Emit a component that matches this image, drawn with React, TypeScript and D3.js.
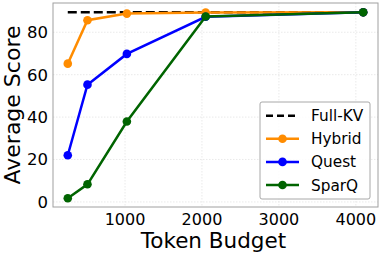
import React from "react";
import * as d3 from "d3";

const budgets = [256, 512, 1024, 2048, 4096];
const fullKV = 89.4;
const hybrid = [65.2, 85.7, 88.8, 89.3, 89.4];
const quest = [22.0, 55.3, 69.8, 87.3, 89.4];
const sparq = [1.7, 8.3, 37.9, 87.4, 89.4];
const xTicks = [1000, 2000, 3000, 4000];
const yTicks = [0, 20, 40, 60, 80];

const series = [
  { name: "Hybrid", values: hybrid, color: "#ff8c00" },
  { name: "Quest", values: quest, color: "#0000ff" },
  { name: "SparQ", values: sparq, color: "#006400" },
];

const W = 382, H = 255;
const left = 53, right = 378, top = 3, bottom = 207;
const font = "'DejaVu Sans', sans-serif";

export default function App() {
  const x = d3.scaleLinear().domain([64, 4288]).range([left, right]);
  const y = d3.scaleLinear().domain([-2.4, 93.8]).range([bottom, top]);
  const line = d3
    .line<number>()
    .x((_, i) => x(budgets[i]))
    .y((d) => y(d));

  const legendItems = [{ name: "Full-KV", color: "#000", dashed: true }, ...series.map((s) => ({ name: s.name, color: s.color, dashed: false }))];

  return (
    <svg width={W} height={H} style={{ position: "absolute", left: 0, top: 0, fontFamily: font }}>
      <rect x={0} y={0} width={W} height={H} fill="#fff" />
      {xTicks.map((t) => (
        <line key={"gx" + t} x1={x(t)} x2={x(t)} y1={top} y2={bottom} stroke="#e4e4e4" strokeWidth={0.8} strokeDasharray="1.5,1.5" />
      ))}
      {yTicks.map((t) => (
        <line key={"gy" + t} x1={left} x2={right} y1={y(t)} y2={y(t)} stroke="#e4e4e4" strokeWidth={0.8} strokeDasharray="1.5,1.5" />
      ))}
      <line x1={x(budgets[0])} x2={x(budgets[budgets.length - 1])} y1={y(fullKV)} y2={y(fullKV)} stroke="#000" strokeWidth={2.5} strokeDasharray="9,4" />
      {series.map((s) => (
        <g key={s.name}>
          <path d={line(s.values) || ""} fill="none" stroke={s.color} strokeWidth={2.5} />
          {s.values.map((v, i) => (
            <circle key={i} cx={x(budgets[i])} cy={y(v)} r={4.3} fill={s.color} />
          ))}
        </g>
      ))}
      <rect x={left} y={top} width={right - left} height={bottom - top} fill="none" stroke="#a0a0a0" strokeWidth={1} />
      {yTicks.map((t) => (
        <text key={"ty" + t} x={48} y={y(t)} dy="0.36em" textAnchor="end" fontSize={16.5} fill="#000">
          {t}
        </text>
      ))}
      {xTicks.map((t) => (
        <text key={"tx" + t} x={x(t)} y={224.5} textAnchor="middle" fontSize={16} fill="#000">
          {t}
        </text>
      ))}
      <text x={(left + right) / 2 - 2} y={248} textAnchor="middle" fontSize={21.5} fill="#000">
        Token Budget
      </text>
      <text transform={`translate(20,${(top + bottom) / 2}) rotate(-90)`} textAnchor="middle" fontSize={22} fill="#000">
        Average Score
      </text>
      <rect x={260} y={102} width={110} height={97} rx={2} fill="#fff" fillOpacity={0.85} stroke="#a8a8a8" strokeWidth={1} />
      {legendItems.map((it, i) => {
        const cy = 115.7 + i * 23.1;
        return (
          <g key={it.name}>
            <line x1={266} x2={299} y1={cy} y2={cy} stroke={it.color} strokeWidth={2.5} strokeDasharray={it.dashed ? "7,4" : undefined} />
            {!it.dashed && <circle cx={282.5} cy={cy} r={4.3} fill={it.color} />}
            <text x={311} y={cy} dy="0.36em" fontSize={15.3} fill="#000">
              {it.name}
            </text>
          </g>
        );
      })}
    </svg>
  );
}
